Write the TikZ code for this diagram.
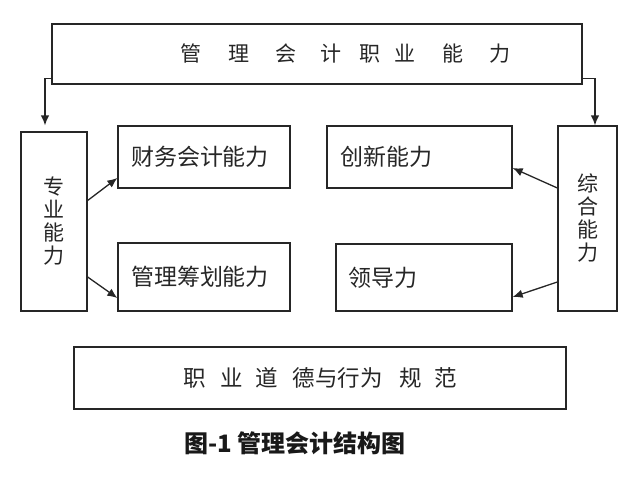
\documentclass[tikz,border=0pt]{standalone}
\usepackage{fontspec}
\setmainfont{Noto Sans CJK SC}
\usepackage{tikz}
\usetikzlibrary{arrows, arrows.meta}

\begin{document}
\begin{tikzpicture}[>={Latex[length=10pt,width=8.5pt]}, x=1pt, y=-1pt,
  box/.style={draw=black!85, line width=1.3pt, rectangle, inner sep=0pt,
    font=\fontsize{21}{23}\selectfont, text=black!85},
  item/.style 2 args={box, align=left, inner xsep=13pt, text width=#1, minimum height=#2,
    font=\fontsize{23}{25}\selectfont},
  link/.style={->, line width=1.3pt, black!85}]

  \useasboundingbox (0,0) rectangle (641,477);

  \node [box, minimum width=530pt, minimum height=60pt] (T) at (317,54)
    {\hspace{58pt}管\hspace{27pt}理\hspace{26pt}会\hspace{24pt}计\hspace{18pt}职\hspace{14pt}业\hspace{27pt}能\hspace{26pt}力};

  \node [box, minimum width=66pt, minimum height=179pt, align=center] (L) at (54,221.5) {专\\业\\能\\力};
  \node [box, minimum width=59pt, minimum height=185pt, align=center] (R) at (587.5,218.5) {综\\合\\能\\力};

  \node [item={146pt}{62pt}] (A) at (204,157) {财务会计能力};
  \node [item={159pt}{62pt}] (B) at (419.5,157) {创新能力};
  \node [item={146pt}{68pt}] (C) at (204,277) {管理筹划能力};
  \node [item={152pt}{67pt}, inner xsep=12pt] (D) at (424,277.5) {领导力};

  \node [box, minimum width=492pt, minimum height=62pt, font=\fontsize{22.5}{24}\selectfont] (E) at (320,378)
    {职\hspace{15pt}业\hspace{12pt}道\hspace{15pt}德与行为\hspace{17pt}规\hspace{12pt}范};

  \node [font=\fontsize{24}{26}\selectfont\bfseries, text=black!90] (cap) at (295,443) {图-1\hspace{6pt}管理会计结构图};

  \draw [link] ([yshift=6pt]T.south west) -| ([xshift=-9pt,yshift=6pt]L.north);
  \draw [link] ([yshift=6pt]T.south east) -| ([xshift=7.5pt]R.north);
  \draw [link] ([yshift=21pt]L.east) -- ([yshift=-21pt]A.west);
  \draw [link] ([yshift=-55.5pt]L.east) -- ([yshift=-21pt]C.west);
  \draw [link] ([yshift=30.5pt]R.west) -- ([yshift=-11pt]B.east);
  \draw [link] ([yshift=-63.5pt]R.west) -- ([yshift=-19.5pt]D.east);
\end{tikzpicture}
\end{document}
